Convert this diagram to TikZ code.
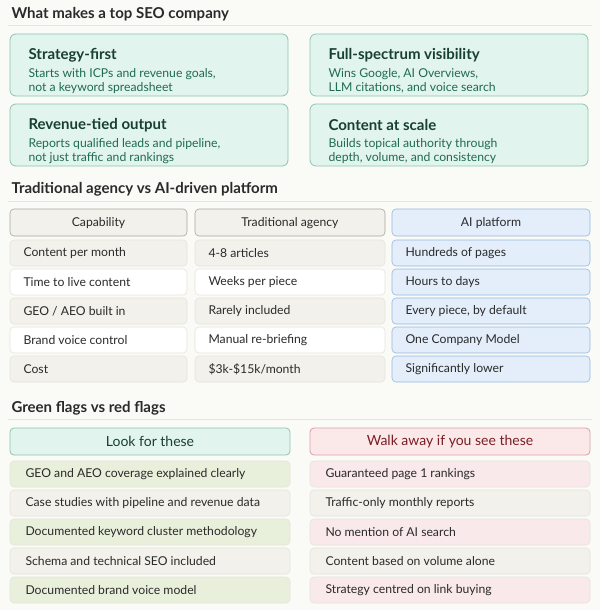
\documentclass[tikz,border=0pt]{standalone}
\usepackage{fontspec}
\setmainfont{Lato}
\definecolor{bg}{HTML}{FAFAF7}
\definecolor{teal}{HTML}{E2F4EE}
\definecolor{tealb}{HTML}{8FC4B0}
\definecolor{tealt}{HTML}{1F6B50}
\definecolor{tealh}{HTML}{173F33}
\definecolor{greyf}{HTML}{F2F1EB}
\definecolor{greyb}{HTML}{E6E4DC}
\definecolor{headb}{HTML}{A8A69E}
\definecolor{bluef}{HTML}{E3EEFA}
\definecolor{blueb}{HTML}{96B8DE}
\definecolor{greenf}{HTML}{E8F0DC}
\definecolor{pinkf}{HTML}{F9E9EA}
\definecolor{pinkh}{HTML}{FBE9EA}
\definecolor{pinkb}{HTML}{D9A0A5}
\definecolor{redt}{HTML}{7A1E24}
\definecolor{txt}{HTML}{2A2A2A}
\newcommand\mycard[5]{%
  \draw[card] (#1,#2) rectangle ++(278,62);
  \node[ttl] (t#3) at (#1+15,#2+21) {#4};
  \node[dsc] (d#3) at (#1+15,#2+31) {#5};}
\newcommand\myrow[5]{% y, fill, a, b, c
  \draw[cell,draw=greyb,fill=#2] (10,#1) rectangle (187,#1+26);
  \draw[cell,draw=greyb,fill=#2] (195,#1) rectangle (385,#1+26);
  \draw[cell,draw=blueb,fill=bluef] (392,#1) rectangle (590,#1+26);
  \node[tx] at (20,#1+13) {#3};
  \node[tx] at (205,#1+13) {#4};
  \node[tx] at (402,#1+13) {#5};}
\newcommand\myflag[5]{% y, fa, fb, a, b
  \draw[cell,draw=greyb,fill=#2] (10,#1) rectangle (290,#1+26);
  \draw[cell,draw=greyb,fill=#3] (310,#1) rectangle (590,#1+26);
  \node[tx] at (22,#1+13) {#4};
  \node[tx] at (322,#1+13) {#5};}
\begin{document}
\begin{tikzpicture}[x=1pt,y=-1pt,
  card/.style={draw=tealb,fill=teal,rounded corners=6pt,line width=0.8pt},
  cell/.style={rounded corners=4pt,line width=0.6pt},
  ttl/.style={anchor=west,font=\fontsize{15}{17}\selectfont\bfseries,text=tealh},
  dsc/.style={anchor=north west,align=left,font=\fontsize{12.2}{14}\selectfont,text=tealt},
  sec/.style={anchor=west,font=\fontsize{15}{17}\selectfont\bfseries,text=txt},
  tx/.style={anchor=west,font=\fontsize{12.2}{14}\selectfont,text=txt},
  hd/.style={anchor=center,font=\fontsize{12.2}{14}\selectfont,text=txt}]
\fill[bg] (0,0) rectangle (600,610);
\useasboundingbox (0,0) rectangle (600,610);
% section 1
\node[sec] (s1) at (8,14) {What makes a top SEO company};
\draw[greyb] (8,25) -- (592,25);
\mycard{10}{34}{a}{Strategy-first}{Starts with ICPs and revenue goals,\\not a keyword spreadsheet}
\mycard{310}{34}{b}{Full-spectrum visibility}{Wins Google, AI Overviews,\\LLM citations, and voice search}
\mycard{10}{104}{c}{Revenue-tied output}{Reports qualified leads and pipeline,\\not just traffic and rankings}
\mycard{310}{104}{d}{Content at scale}{Builds topical authority through\\depth, volume, and consistency}
% section 2
\node[sec] (s2) at (8,189) {Traditional agency vs AI-driven platform};
\draw[greyb] (8,201) -- (592,201);
\draw[cell,draw=headb,fill=greyf] (10,209) rectangle (187,236);
\draw[cell,draw=headb,fill=greyf] (195,209) rectangle (385,236);
\draw[cell,draw=blueb,fill=bluef] (392,209) rectangle (590,236);
\node[hd] (h1) at (98.5,223) {Capability};
\node[hd] (h2) at (290,223) {Traditional agency};
\node[hd] (h3) at (491,223) {AI platform};
\myrow{240}{greyf}{Content per month}{4-8 articles}{Hundreds of pages}
\myrow{269}{white}{Time to live content}{Weeks per piece}{Hours to days}
\myrow{298}{greyf}{GEO / AEO built in}{Rarely included}{Every piece, by default}
\myrow{327}{white}{Brand voice control}{Manual re-briefing}{One Company Model}
\myrow{356}{greyf}{Cost}{\$3k-\$15k/month}{Significantly lower}
% section 3
\node[sec] (s3) at (8,408) {Green flags vs red flags};
\draw[greyb] (8,419) -- (592,419);
\draw[cell,draw=tealb,fill=teal,line width=0.8pt] (10,428) rectangle (290,455);
\draw[cell,draw=pinkb,fill=pinkh,line width=0.8pt] (310,428) rectangle (590,455);
\node[hd,font=\fontsize{14}{16}\selectfont,text=tealh] (g) at (150,441.5) {Look for these};
\node[hd,font=\fontsize{14}{16}\selectfont,text=redt] (r) at (450,441.5) {Walk away if you see these};
\myflag{461}{greenf}{pinkf}{GEO and AEO coverage explained clearly}{Guaranteed page 1 rankings}
\myflag{490}{greyf}{greyf}{Case studies with pipeline and revenue data}{Traffic-only monthly reports}
\myflag{519}{greenf}{pinkf}{Documented keyword cluster methodology}{No mention of AI search}
\myflag{548}{greyf}{greyf}{Schema and technical SEO included}{Content based on volume alone}
\myflag{577}{greenf}{pinkf}{Documented brand voice model}{Strategy centred on link buying}
\end{tikzpicture}
\end{document}
